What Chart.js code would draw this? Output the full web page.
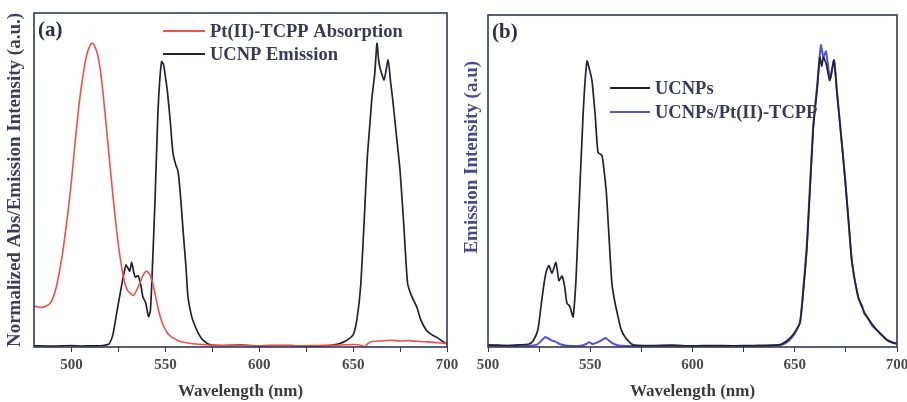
<!DOCTYPE html>
<html>
<head>
<meta charset="utf-8">
<script src="https://cdn.jsdelivr.net/npm/chart.js@4.4.1/dist/chart.umd.min.js"></script>
<style>
  html, body { margin: 0; padding: 0; background: #fff; overflow: hidden; }
  .panel { position: absolute; top: 0; }
</style>
</head>
<body>
<div class="panel" style="left:0"><canvas id="chartA" width="470" height="402"></canvas></div>
<div class="panel" style="left:453px"><canvas id="chartB" width="454" height="402"></canvas></div>
<script>
// Panel (a): Pt(II)-TCPP absorption vs. UCNP emission
const absWl = [480, 484, 488, 490, 492, 495, 498, 500, 502, 504, 506, 508, 510, 511, 512, 514, 516, 518, 520, 522, 524, 526, 528, 530, 533, 536, 538, 540, 542, 544, 546, 548, 551, 554, 558, 562, 566, 570, 575, 580, 590, 600, 610, 620, 630, 640, 650, 654, 656, 658, 660, 665, 670, 675, 680, 685, 690, 695, 700];
const absVal = [0.135, 0.13, 0.14, 0.16, 0.2, 0.3, 0.44, 0.55, 0.68, 0.8, 0.89, 0.96, 0.995, 1.0, 0.995, 0.96, 0.88, 0.76, 0.63, 0.5, 0.385, 0.29, 0.22, 0.185, 0.17, 0.205, 0.235, 0.25, 0.235, 0.19, 0.13, 0.085, 0.046, 0.03, 0.018, 0.013, 0.01, 0.008, 0.006, 0.005, 0.005, 0.004, 0.005, 0.004, 0.005, 0.006, 0.008, 0.006, 0.0, 0.012, 0.018, 0.02, 0.022, 0.02, 0.021, 0.018, 0.017, 0.014, 0.012];

const emWl = [480, 490, 500, 505, 510, 515, 518, 520, 522, 524, 526, 527.5, 529, 530, 531, 532, 533, 534, 535.5, 537, 538, 539.5, 541, 542, 543, 544.5, 546, 547, 548, 549, 550, 551, 552.5, 554, 555.5, 556.7, 558, 559.4, 561, 562, 564, 566, 568, 570, 574, 580, 590, 600, 610, 620, 630, 637, 642, 646, 650, 652, 654, 656, 657.5, 659, 660, 661.5, 662.7, 663.5, 664.3, 666.5, 668.6, 670, 671, 673, 675, 677, 679, 681, 684, 686, 689, 692, 695, 699, 700];
const emVal = [0.004, 0.003, 0.005, 0.003, 0.004, 0.004, 0.006, 0.01, 0.04, 0.11, 0.18, 0.23, 0.27, 0.26, 0.25, 0.28, 0.25, 0.23, 0.235, 0.2, 0.165, 0.145, 0.1, 0.12, 0.25, 0.49, 0.77, 0.88, 0.94, 0.93, 0.89, 0.845, 0.75, 0.64, 0.6, 0.58, 0.5, 0.385, 0.26, 0.165, 0.1, 0.066, 0.04, 0.023, 0.007, 0.005, 0.006, 0.004, 0.005, 0.004, 0.003, 0.005, 0.01, 0.02, 0.04, 0.09, 0.2, 0.43, 0.62, 0.74, 0.82, 0.9, 1.0, 0.95, 0.92, 0.88, 0.945, 0.87, 0.82, 0.7, 0.58, 0.4, 0.21, 0.17, 0.13, 0.09, 0.055, 0.04, 0.03, 0.013, 0.01];

// Panel (b): UCNPs vs. UCNPs/Pt(II)-TCPP emission
const ucnpWl = [500, 505, 510, 515, 520, 522, 524.4, 526, 527.4, 528.5, 529.8, 531.3, 533.2, 534.7, 536.2, 537.5, 538.6, 540, 541.6, 543, 544, 546.5, 548.4, 550, 550.9, 552.5, 553.8, 555.7, 557, 558, 559.3, 560.6, 562, 563.6, 565, 567, 571, 580, 590, 600, 610, 620, 630, 640, 643, 646, 649, 651, 652.6, 654, 656, 659, 661, 662.3, 663.2, 664, 665.3, 667.2, 669.2, 670.5, 672, 674.6, 676.5, 678, 681, 683, 685.3, 690, 695, 698, 700];
const ucnpVal = [0.007, 0.006, 0.005, 0.007, 0.01, 0.02, 0.057, 0.14, 0.21, 0.25, 0.27, 0.245, 0.28, 0.22, 0.235, 0.2, 0.145, 0.135, 0.1, 0.22, 0.38, 0.77, 0.947, 0.91, 0.88, 0.76, 0.645, 0.635, 0.57, 0.5, 0.35, 0.21, 0.15, 0.1, 0.06, 0.033, 0.007, 0.005, 0.006, 0.004, 0.005, 0.004, 0.005, 0.006, 0.008, 0.02, 0.04, 0.06, 0.08, 0.17, 0.333, 0.72, 0.857, 0.96, 0.93, 0.96, 0.94, 0.883, 0.95, 0.85, 0.747, 0.557, 0.4, 0.28, 0.167, 0.13, 0.1, 0.057, 0.023, 0.013, 0.01];

const ptWl = [500, 510, 520, 524, 526, 527.9, 529, 531, 533, 535, 538, 542, 546, 548, 549.5, 551, 553, 555, 557.5, 559, 561, 564, 570, 580, 600, 620, 640, 644, 647, 650, 652.6, 654, 656, 659, 661, 662.8, 664, 665.3, 667.2, 669.2, 670.5, 672, 674.6, 676.5, 678, 681, 683, 684, 685.3, 688, 690, 695, 698, 700];
const ptVal = [0.005, 0.004, 0.004, 0.008, 0.02, 0.033, 0.03, 0.022, 0.018, 0.01, 0.005, 0.003, 0.005, 0.01, 0.016, 0.01, 0.014, 0.02, 0.03, 0.022, 0.012, 0.005, 0.003, 0.003, 0.003, 0.003, 0.004, 0.008, 0.02, 0.045, 0.085, 0.18, 0.35, 0.73, 0.87, 1.0, 0.96, 0.98, 0.89, 0.95, 0.86, 0.75, 0.56, 0.4, 0.28, 0.165, 0.135, 0.11, 0.1, 0.07, 0.057, 0.025, 0.015, 0.012];

const xTicks = [500, 525, 550, 575, 600, 625, 650, 675, 700];

const serif = "'Liberation Serif', 'Times New Roman', serif";
const frameColor = '#34384f';

const pairs = (xs, ys) => xs.map((x, i) => ({ x: x, y: ys[i] }));

// frame, panel tag and legend drawn over the plot
const panelDeco = {
  id: 'panelDeco',
  afterDraw(chart, args, opts) {
    const { ctx, chartArea: a } = chart;
    ctx.save();
    ctx.strokeStyle = frameColor;
    ctx.lineWidth = 1.6;
    ctx.strokeRect(a.left, a.top, a.right - a.left, a.bottom - a.top);

    ctx.fillStyle = '#2e2f45';
    ctx.font = 'bold 21px ' + serif;
    ctx.textBaseline = 'middle';
    ctx.fillText(opts.tag, a.left + 4, a.top + 18);

    ctx.font = 'bold 18.5px ' + serif;
    chart.data.datasets.forEach((ds, i) => {
      const y = opts.y + i * opts.gap;
      ctx.strokeStyle = ds.borderColor;
      ctx.lineWidth = 2;
      ctx.beginPath();
      ctx.moveTo(opts.x, y);
      ctx.lineTo(opts.x + opts.len, y);
      ctx.stroke();
      ctx.fillStyle = '#3a3b52';
      ctx.fillText(ds.label, opts.x + opts.len + 5, y + 1);
    });
    ctx.restore();
  }
};

function makeChart(id, datasets, opt) {
  return new Chart(document.getElementById(id), {
    type: 'line',
    data: { datasets: datasets },
    plugins: [panelDeco],
    options: {
      responsive: false,
      devicePixelRatio: 1,
      animation: false,
      layout: { padding: { left: 0, right: opt.padRight, top: opt.padTop, bottom: 0 } },
      elements: { point: { radius: 0 }, line: { tension: 0.2 } },
      plugins: {
        legend: { display: false },
        tooltip: { enabled: false },
        panelDeco: opt.deco
      },
      scales: {
        x: {
          type: 'linear',
          min: opt.xMin,
          max: 700,
          afterBuildTicks: (s) => { s.ticks = xTicks.map((v) => ({ value: v })); },
          afterFit: (s) => { s.height = 55; s.paddingRight = 0; s.paddingLeft = 0; },
          grid: { drawOnChartArea: false, drawTicks: true, tickLength: 5, color: frameColor },
          border: { display: false },
          ticks: {
            padding: 4,
            color: '#4a4a4a',
            font: { family: serif, size: 15, weight: 'bold' },
            callback: (v) => (v % 50 === 0 ? v : '')
          },
          title: {
            display: true,
            text: 'Wavelength (nm)',
            color: '#3a3a3a',
            padding: 0,
            font: { family: serif, size: 17, weight: 'bold' }
          }
        },
        y: {
          min: 0,
          max: 1.1,
          afterFit: (s) => { s.width = opt.yWidth; },
          grid: { display: false },
          border: { display: false },
          ticks: { display: false },
          title: {
            display: true,
            text: opt.yTitle,
            color: opt.yColor,
            padding: { top: opt.yPad, bottom: 0 },
            font: { family: serif, size: 19, weight: 'bold' }
          }
        }
      }
    }
  });
}

makeChart('chartA', [
  { label: 'Pt(II)-TCPP Absorption', data: pairs(absWl, absVal), borderColor: '#ef5049', borderWidth: 1.6 },
  { label: 'UCNP Emission', data: pairs(emWl, emVal), borderColor: '#222232', borderWidth: 1.7 }
], {
  xMin: 480, padRight: 23, padTop: 13, yWidth: 34, yPad: 3.5,
  yTitle: 'Normalized Abs/Emission Intensity (a.u.)', yColor: '#3c3e58',
  deco: { tag: '(a)', x: 163, y: 31, gap: 23, len: 42 }
});

makeChart('chartB', [
  { label: 'UCNPs', data: pairs(ucnpWl, ucnpVal), borderColor: '#222232', borderWidth: 1.7 },
  { label: 'UCNPs/Pt(II)-TCPP', data: pairs(ptWl, ptVal), borderColor: '#5454cc', borderWidth: 2 }
], {
  xMin: 500, padRight: 10, padTop: 15, yWidth: 35, yPad: 7.5,
  // leading spaces lift the centred title, as in the original figure
  yTitle: '          Emission Intensity (a.u)', yColor: '#474a86',
  deco: { tag: '(b)', x: 157, y: 88, gap: 24, len: 40 }
});
</script>
</body>
</html>
